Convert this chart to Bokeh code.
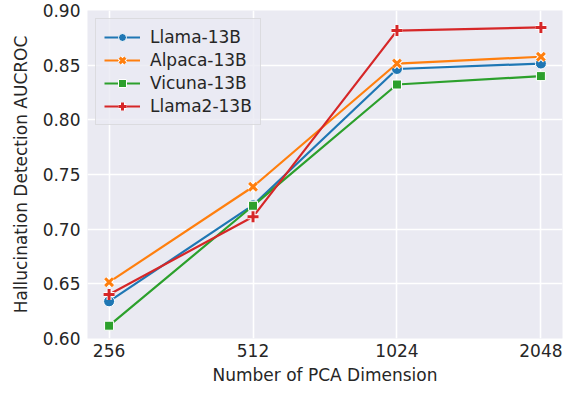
from bokeh.plotting import figure
from bokeh.models import FixedTicker, Legend, LegendItem, NumeralTickFormatter
from bokeh.embed import file_html
from bokeh.resources import INLINE

dims = ["256", "512", "1024", "2048"]
llama = [0.634, 0.722, 0.8465, 0.8515]
alpaca = [0.6515, 0.7388, 0.8515, 0.8577]
vicuna = [0.6117, 0.7214, 0.8323, 0.8400]
llama2 = [0.6403, 0.7113, 0.8816, 0.8845]
yticks = [0.60, 0.65, 0.70, 0.75, 0.80, 0.85, 0.90]

series = [
    ("Llama-13B", llama, "#1f77b4", "circle"),
    ("Alpaca-13B", alpaca, "#ff7f0e", "x"),
    ("Vicuna-13B", vicuna, "#2ca02c", "square"),
    ("Llama2-13B", llama2, "#d62728", "cross"),
]

xs = list(range(len(dims)))
FONT = "DejaVu Sans"
TXT = "#262626"

p = figure(width=564, height=387, output_backend="svg", toolbar_location=None,
           x_range=(-0.15, len(dims) - 1 + 0.15), y_range=(0.60, 0.90),
           min_border_left=87, min_border_right=2, min_border_top=10, min_border_bottom=44)
p.background_fill_color = "#eaeaf2"
p.border_fill_color = "white"
p.outline_line_color = None

for ax in (p.xaxis, p.yaxis):
    ax.axis_line_color = None
    ax.major_tick_line_color = None
    ax.minor_tick_line_color = None
    ax.major_tick_out = 0
    ax.major_tick_in = 0
    ax.major_label_text_font = FONT
    ax.major_label_text_font_size = "17px"
    ax.major_label_text_color = TXT
    ax.axis_label_text_font = FONT
    ax.axis_label_text_font_size = "17px"
    ax.axis_label_text_font_style = "normal"
    ax.axis_label_text_color = TXT

p.xaxis.ticker = FixedTicker(ticks=xs)
p.xaxis.major_label_overrides = {i: d for i, d in zip(xs, dims)}
p.xaxis.axis_label = "Number of PCA Dimension"
p.xaxis.major_label_standoff = 5
p.xaxis.axis_label_standoff = 5

p.yaxis.ticker = FixedTicker(ticks=yticks)
p.yaxis.formatter = NumeralTickFormatter(format="0.00")
p.yaxis.axis_label = "Hallucination Detection AUCROC"
p.yaxis.major_label_standoff = 7
p.yaxis.axis_label_standoff = 9

for g in (p.xgrid, p.ygrid):
    g.grid_line_color = "white"
    g.grid_line_width = 1.6
p.xgrid.ticker = FixedTicker(ticks=xs)
p.ygrid.ticker = FixedTicker(ticks=yticks)

items = []
for name, ys, color, marker in series:
    rs = []
    rs.append(p.line(xs, ys, line_color=color, line_width=2.2))
    if marker in ("x", "cross"):
        rs.append(p.scatter(xs, ys, marker=marker, size=11, line_color="white", line_width=5))
        rs.append(p.scatter(xs, ys, marker=marker, size=11, line_color=color, line_width=3))
    else:
        sz = 11 if marker == "circle" else 9
        rs.append(p.scatter(xs, ys, marker=marker, size=sz, fill_color=color,
                            line_color="white", line_width=1))
    items.append(LegendItem(label=name, renderers=rs))

legend = Legend(items=items, location="top_left")
legend.margin = 8
legend.padding = 8
legend.spacing = 3
legend.glyph_width = 36
legend.glyph_height = 20
legend.label_height = 20
legend.label_standoff = 10
legend.label_text_font = FONT
legend.label_text_font_size = "17px"
legend.label_text_color = TXT
legend.background_fill_color = "#eaeaf2"
legend.background_fill_alpha = 0.8
legend.border_line_color = "#cccccc"
legend.border_line_width = 1
p.add_layout(legend, "center")

open("out.html", "w").write(file_html(p, INLINE))
